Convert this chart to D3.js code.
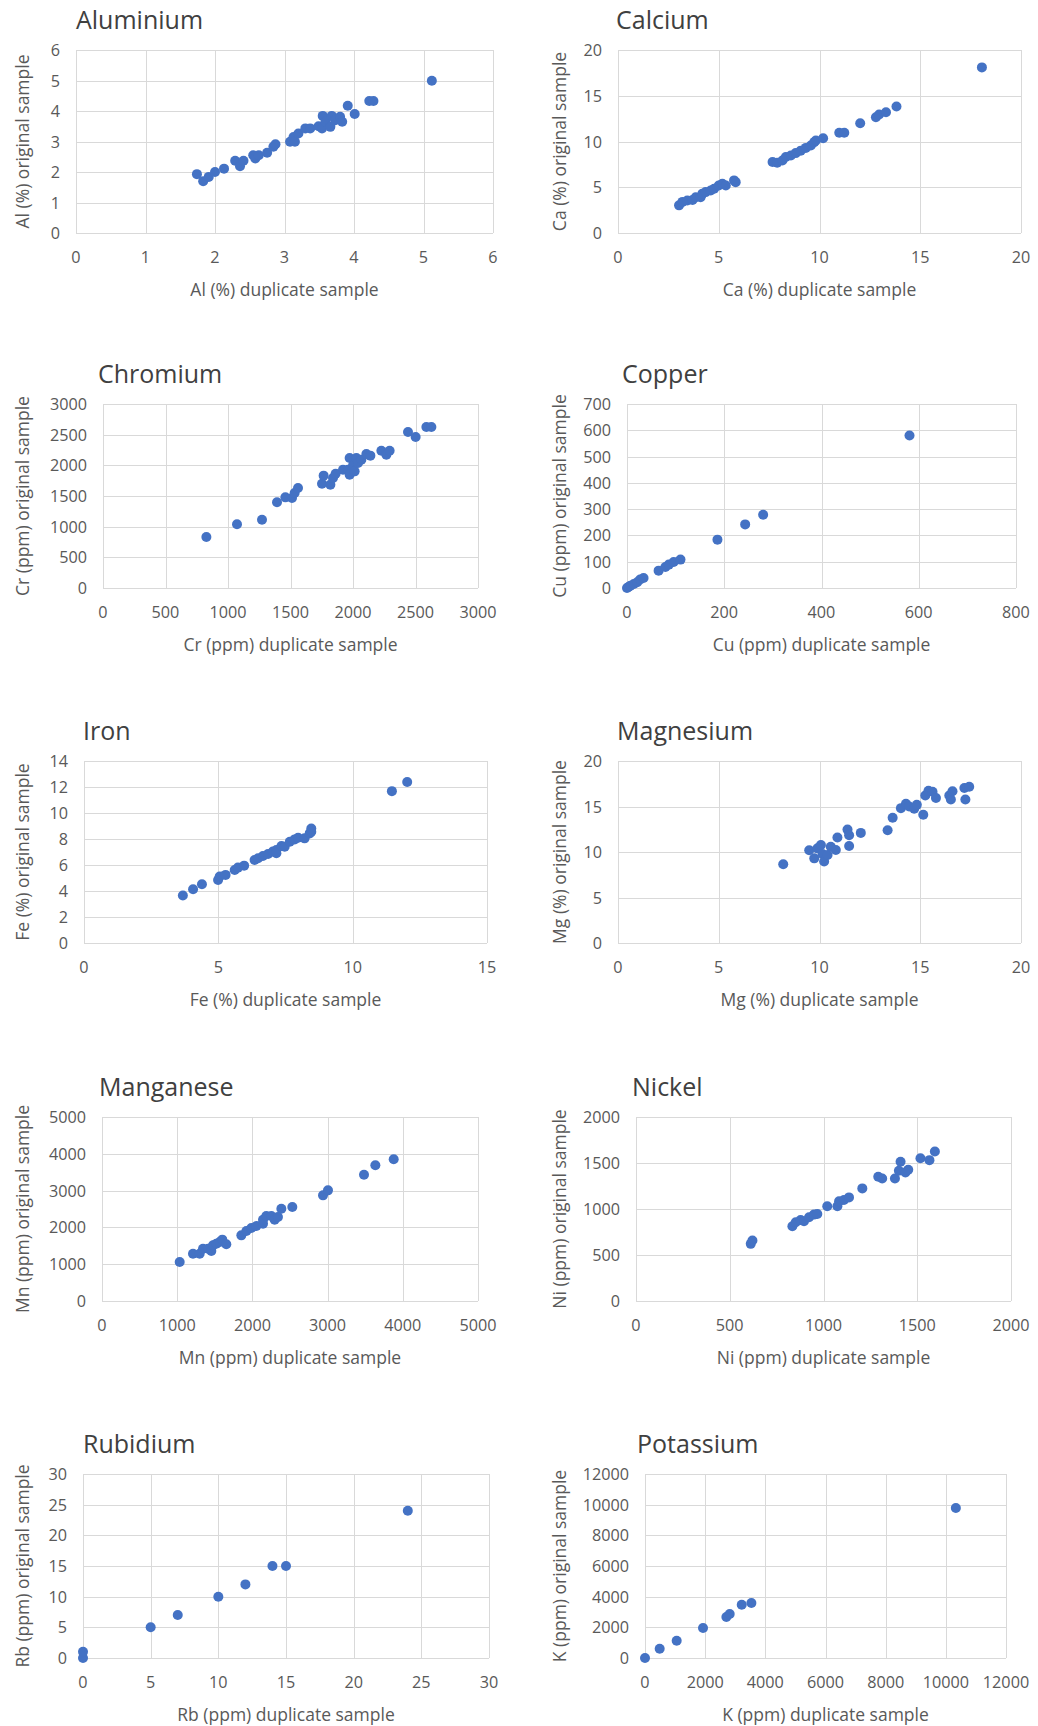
<!DOCTYPE html>
<html>
<head>
<meta charset="utf-8">
<script src="https://cdn.jsdelivr.net/npm/d3@7"></script>
<style>
  html, body { margin: 0; padding: 0; background: #fff; }
  svg { display: block; font-family: "Open Sans", "Noto Sans", sans-serif; }
  .grid line { stroke: #d9d9d9; stroke-width: 1; shape-rendering: crispEdges; }
  .tick-label { fill: #595959; font-size: 16.2px; }
  .axis-title { fill: #595959; font-size: 17.5px; }
  .chart-title { fill: #404040; font-size: 25px; }
</style>
</head>
<body>
<svg id="chart" width="1038" height="1726"></svg>
<script>
// ---- Duplicate vs original assay values, one pair of arrays per element ----
const alDup = [1.74,1.83,1.91,2.0,2.13,2.29,2.36,2.41,2.55,2.58,2.63,2.75,2.84,2.87,3.08,3.13,3.15,3.2,3.3,3.37,3.49,3.54,3.55,3.59,3.66,3.68,3.73,3.8,3.83,3.91,4.01,4.22,4.28,5.12];
const alOrig = [1.93,1.7,1.84,2.0,2.11,2.37,2.19,2.37,2.55,2.44,2.55,2.63,2.83,2.91,2.99,3.15,2.99,3.26,3.43,3.43,3.5,3.43,3.84,3.65,3.48,3.84,3.7,3.81,3.65,4.17,3.9,4.33,4.33,4.99];

const caDup = [3.03,3.2,3.44,3.7,3.86,4.1,4.19,4.35,4.6,4.77,5.0,5.18,5.35,5.76,5.84,7.67,7.9,8.16,8.33,8.58,8.82,9.07,9.32,9.57,9.74,9.82,10.18,10.98,11.23,12.02,12.8,12.96,13.3,13.82,18.06];
const caOrig = [3.02,3.4,3.56,3.6,3.9,3.9,4.3,4.47,4.65,4.84,5.2,5.38,5.2,5.75,5.56,7.75,7.67,7.93,8.3,8.47,8.73,9.0,9.3,9.56,9.93,10.1,10.36,10.95,10.95,12.0,12.65,12.95,13.2,13.82,18.1];

const crDup = [827,1072,1272,1392,1459,1512,1533,1560,1752,1765,1819,1840,1861,1920,1960,1973,1973,2000,2013,2027,2040,2067,2107,2139,2227,2267,2293,2440,2501,2587,2627];
const crOrig = [832,1038,1114,1397,1478,1467,1549,1630,1701,1832,1685,1793,1864,1929,1929,2120,1848,1995,1902,2120,2038,2092,2185,2158,2239,2174,2239,2543,2462,2625,2625];

const cuDup = [0,3,7,14,21,27,34,65,79,86,96,110,186,243,280,581];
const cuOrig = [0,4,9,15,22,32,38,66,80,89,99,108,184,242,279,580];

const feDup = [3.68,4.06,4.39,4.99,5.05,5.27,5.61,5.73,5.96,6.35,6.48,6.66,6.85,7.03,7.16,7.16,7.35,7.47,7.66,7.84,7.97,8.21,8.4,8.46,8.46,11.46,12.03];
const feOrig = [3.65,4.14,4.52,4.85,5.11,5.24,5.62,5.8,5.95,6.39,6.52,6.69,6.85,7.03,7.15,6.9,7.46,7.41,7.79,7.97,8.1,8.05,8.43,8.81,8.56,11.68,12.39];

const mgDup = [8.2,9.49,9.74,9.9,10.07,10.15,10.23,10.4,10.56,10.81,10.89,11.39,11.47,11.47,12.05,13.38,13.63,14.04,14.29,14.45,14.7,14.83,15.15,15.25,15.41,15.61,15.78,16.44,16.52,16.6,17.19,17.24,17.43];
const mgOrig = [8.66,10.2,9.3,10.4,10.76,9.78,8.95,9.67,10.58,10.22,11.6,12.46,11.85,10.65,12.1,12.39,13.77,14.82,15.29,15.0,14.75,15.18,14.09,16.2,16.74,16.63,15.94,16.2,15.76,16.67,17.03,15.76,17.17];

const mnDup = [1033,1210,1299,1343,1410,1454,1476,1520,1565,1600,1653,1853,1920,1986,2053,2141,2141,2185,2252,2296,2340,2385,2531,2939,3005,3484,3635,3879];
const mnOrig = [1060,1286,1286,1422,1422,1359,1513,1558,1603,1667,1540,1784,1902,1984,2038,2101,2210,2310,2310,2210,2283,2509,2554,2871,3007,3433,3687,3850];

const niDup = [612,621,834,852,878,896,923,949,967,1020,1074,1083,1109,1136,1207,1292,1313,1381,1402,1411,1437,1452,1517,1565,1594];
const niOrig = [621,657,812,856,881,866,910,939,946,1029,1029,1083,1097,1126,1224,1350,1332,1332,1415,1513,1397,1426,1552,1531,1625];

const rbDup = [0,0,5,7,10,12,14,15,24];
const rbOrig = [0,1,5,7,10,12,15,15,24];

const kDup = [0,488,1053,1929,2705,2816,3215,3537,10333];
const kOrig = [0,609,1130,1957,2674,2870,3478,3587,9783];

// ---- Tick values per axis ----
const alTicks = [0,1,2,3,4,5,6];
const caTicks = [0,5,10,15,20];
const crTicks = [0,500,1000,1500,2000,2500,3000];
const cuXTicks = [0,200,400,600,800];
const cuYTicks = [0,100,200,300,400,500,600,700];
const feXTicks = [0,5,10,15];
const feYTicks = [0,2,4,6,8,10,12,14];
const mgTicks = [0,5,10,15,20];
const mnTicks = [0,1000,2000,3000,4000,5000];
const niTicks = [0,500,1000,1500,2000];
const rbTicks = [0,5,10,15,20,25,30];
const kTicks = [0,2000,4000,6000,8000,10000,12000];

// ---- Panel text ----
const titles = ["Aluminium","Calcium","Chromium","Copper","Iron","Magnesium","Manganese","Nickel","Rubidium","Potassium"];
const xTitles = ["Al (%) duplicate sample","Ca (%) duplicate sample","Cr (ppm) duplicate sample","Cu (ppm) duplicate sample","Fe (%) duplicate sample","Mg (%) duplicate sample","Mn (ppm) duplicate sample","Ni (ppm) duplicate sample","Rb (ppm) duplicate sample","K (ppm) duplicate sample"];
const yTitles = ["Al (%) original sample","Ca (%) original sample","Cr (ppm) original sample","Cu (ppm) original sample","Fe (%) original sample","Mg (%) original sample","Mn (ppm) original sample","Ni (ppm) original sample","Rb (ppm) original sample","K (ppm) original  sample"];

const panels = [
  { dup: alDup, orig: alOrig, xt: alTicks,   yt: alTicks },
  { dup: caDup, orig: caOrig, xt: caTicks,   yt: caTicks },
  { dup: crDup, orig: crOrig, xt: crTicks,   yt: crTicks },
  { dup: cuDup, orig: cuOrig, xt: cuXTicks,  yt: cuYTicks },
  { dup: feDup, orig: feOrig, xt: feXTicks,  yt: feYTicks },
  { dup: mgDup, orig: mgOrig, xt: mgTicks,   yt: mgTicks },
  { dup: mnDup, orig: mnOrig, xt: mnTicks,   yt: mnTicks },
  { dup: niDup, orig: niOrig, xt: niTicks,   yt: niTicks },
  { dup: rbDup, orig: rbOrig, xt: rbTicks,   yt: rbTicks },
  { dup: kDup,  orig: kOrig,  xt: kTicks,    yt: kTicks }
];

// ---- Layout: plot-area rectangles (left, right) per panel and (top, bottom) per row ----
const plotX = [[76,493],[618,1021],[103,478],[627,1016],[84,487],[618,1021],[102,478],[636,1011],[83,489],[645,1006]];
const rowY = [[50,233],[404,588],[761,943],[1117,1301],[1474,1658]];
const colYTitleX = [22, 559];
const titleShift = [0,-2,-5,-5,-1,-1,-3,-4,0,-8];

const svg = d3.select("#chart");
const fmt = d3.format("d");

panels.forEach((p, i) => {
  const row = Math.floor(i / 2), col = i % 2;
  const [x0, x1] = plotX[i];
  const [y0, y1] = rowY[row];
  const x = d3.scaleLinear().domain(d3.extent(p.xt)).range([x0, x1]);
  const y = d3.scaleLinear().domain(d3.extent(p.yt)).range([y1, y0]);

  const g = svg.append("g");

  // gridlines
  const grid = g.append("g").attr("class", "grid");
  grid.selectAll("line.v").data(p.xt).join("line").attr("class", "v")
    .attr("x1", d => Math.round(x(d)) + 0.5).attr("x2", d => Math.round(x(d)) + 0.5)
    .attr("y1", y0).attr("y2", y1);
  grid.selectAll("line.h").data(p.yt).join("line").attr("class", "h")
    .attr("y1", d => Math.round(y(d)) + 0.5).attr("y2", d => Math.round(y(d)) + 0.5)
    .attr("x1", x0).attr("x2", x1);

  // x tick labels
  g.selectAll("text.xt").data(p.xt).join("text").attr("class", "tick-label xt")
    .attr("x", d => x(d)).attr("y", y1 + 24)
    .attr("text-anchor", "middle").attr("dominant-baseline", "central")
    .text(d => fmt(d));

  // y tick labels
  g.selectAll("text.yt").data(p.yt).join("text").attr("class", "tick-label yt")
    .attr("x", x0 - 16).attr("y", d => y(d))
    .attr("text-anchor", "end").attr("dominant-baseline", "central")
    .text(d => fmt(d));

  // axis titles
  g.append("text").attr("class", "axis-title")
    .attr("x", (x0 + x1) / 2).attr("y", y1 + 56)
    .attr("text-anchor", "middle").attr("dominant-baseline", "central")
    .text(xTitles[i]);
  g.append("text").attr("class", "axis-title")
    .attr("transform", `translate(${colYTitleX[col]},${(y0 + y1) / 2}) rotate(-90)`)
    .attr("text-anchor", "middle").attr("dominant-baseline", "central")
    .text(yTitles[i]);

  // chart title
  g.append("text").attr("class", "chart-title")
    .attr("x", x0 + titleShift[i]).attr("y", y0 - 21)
    .text(titles[i]);

  // points
  g.selectAll("circle").data(p.dup.map((d, k) => [d, p.orig[k]])).join("circle")
    .attr("cx", d => x(d[0])).attr("cy", d => y(d[1]))
    .attr("r", 5).attr("fill", "#4472C4");
});
</script>
</body>
</html>
